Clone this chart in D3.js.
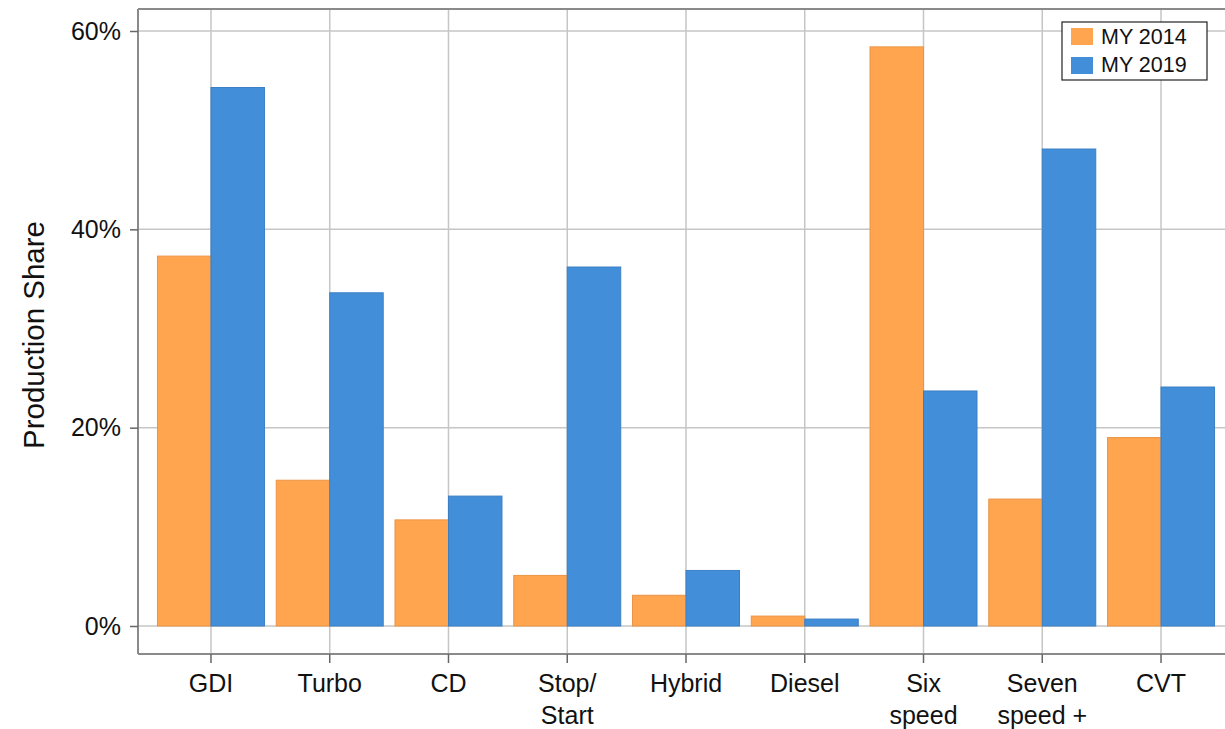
<!DOCTYPE html>
<html>
<head>
<meta charset="utf-8">
<script src="https://cdn.jsdelivr.net/npm/d3@7"></script>
<style>
  html, body { margin: 0; padding: 0; background: #fff; }
  svg { display: block; font-family: "Liberation Sans", Arial, sans-serif; }
</style>
</head>
<body>
<svg id="chart" width="1225" height="729"></svg>
<script>
// Data
const categories = [["GDI"], ["Turbo"], ["CD"], ["Stop/", "Start"], ["Hybrid"], ["Diesel"], ["Six", "speed"], ["Seven", "speed +"], ["CVT"]];
const seriesNames = ["MY 2014", "MY 2019"];
const my2014 = [37.3, 14.7, 10.7, 5.1, 3.1, 1.0, 58.4, 12.8, 19.0];
const my2019 = [54.3, 33.6, 13.1, 36.2, 5.6, 0.7, 23.7, 48.1, 24.1];
const yTicks = [0, 20, 40, 60];

const colors = { "MY 2014": "#ffa54f", "MY 2019": "#428ed8" };
const strokes = { "MY 2014": "#eb9445", "MY 2019": "#3b80c6" };

const svg = d3.select("#chart");
const catKeys = categories.map(c => c.join(" "));

const plotLeft = 138, plotTop = 9, plotBottom = 654, plotRight = 1225;

const x = d3.scaleBand().domain(catKeys).range([151.6, 1220.4]).paddingInner(0).paddingOuter(0);
const xSub = d3.scaleBand().domain(seriesNames).range([0, x.bandwidth()]).paddingInner(0).paddingOuter(0.11);
const y = d3.scaleLinear().domain([0, 60]).range([626, 31]);

// Horizontal gridlines
svg.append("g").selectAll("line").data(yTicks).join("line")
  .attr("x1", plotLeft).attr("x2", plotRight)
  .attr("y1", d => y(d)).attr("y2", d => y(d))
  .attr("stroke", "#c6c6c6").attr("stroke-width", 1.5);

// Vertical gridlines at category centers
svg.append("g").selectAll("line").data(catKeys).join("line")
  .attr("x1", d => x(d) + x.bandwidth() / 2).attr("x2", d => x(d) + x.bandwidth() / 2)
  .attr("y1", plotTop).attr("y2", plotBottom)
  .attr("stroke", "#c6c6c6").attr("stroke-width", 1.5);

// Bars
const rows = catKeys.map((k, i) => ({ key: k, values: [
  { s: "MY 2014", v: my2014[i] }, { s: "MY 2019", v: my2019[i] } ] }));

const groups = svg.append("g").selectAll("g").data(rows).join("g")
  .attr("transform", d => `translate(${x(d.key)},0)`);
groups.selectAll("rect").data(d => d.values).join("rect")
  .attr("x", d => xSub(d.s))
  .attr("width", xSub.bandwidth())
  .attr("y", d => y(d.v))
  .attr("height", d => y(0) - y(d.v))
  .attr("fill", d => colors[d.s])
  .attr("stroke", d => strokes[d.s])
  .attr("stroke-width", 1);

// Frame (left, top, bottom)
svg.append("line").attr("x1", plotLeft).attr("x2", plotRight).attr("y1", plotTop).attr("y2", plotTop)
  .attr("stroke", "#8a8a8a").attr("stroke-width", 2);
svg.append("line").attr("x1", plotLeft).attr("x2", plotRight).attr("y1", plotBottom).attr("y2", plotBottom)
  .attr("stroke", "#8a8a8a").attr("stroke-width", 2);
svg.append("line").attr("x1", plotLeft).attr("x2", plotLeft).attr("y1", plotTop).attr("y2", plotBottom)
  .attr("stroke", "#8a8a8a").attr("stroke-width", 2);

// Y axis
const yAxis = d3.axisLeft(y).tickValues(yTicks).tickFormat(d => d + "%").tickSize(8).tickPadding(9);
const yg = svg.append("g").attr("transform", `translate(${plotLeft},0)`).call(yAxis);
yg.select(".domain").remove();
yg.selectAll(".tick line").attr("stroke", "#666").attr("stroke-width", 1.5);
yg.selectAll(".tick text").attr("font-size", 25).attr("fill", "#111")
  .attr("font-family", "'Liberation Sans', Arial, sans-serif");

// X axis
const xAxis = d3.axisBottom(x).tickSize(9).tickFormat("");
const xg = svg.append("g").attr("transform", `translate(0,${plotBottom})`).call(xAxis);
xg.select(".domain").remove();
xg.selectAll(".tick line").attr("stroke", "#666").attr("stroke-width", 1.5);
xg.selectAll(".tick").each(function(d, i) {
  const t = d3.select(this).append("text")
    .attr("text-anchor", "middle").attr("fill", "#111")
    .attr("font-size", 25)
    .attr("font-family", "'Liberation Sans', Arial, sans-serif");
  categories[i].forEach((line, j) => {
    t.append("tspan").attr("x", 0).attr("y", 38 + j * 32).text(line);
  });
});

// Y axis title
svg.append("text")
  .attr("transform", "translate(44,335) rotate(-90)")
  .attr("text-anchor", "middle")
  .attr("font-size", 29.5)
  .attr("fill", "#111")
  .text("Production Share");

// Legend
const lg = svg.append("g");
lg.append("rect").attr("x", 1062).attr("y", 22).attr("width", 145).attr("height", 58)
  .attr("fill", "#fff").attr("stroke", "#222").attr("stroke-width", 1.2);
seriesNames.forEach((s, i) => {
  lg.append("rect").attr("x", 1071).attr("y", 28 + i * 29).attr("width", 22).attr("height", 17)
    .attr("fill", colors[s]);
  lg.append("text").attr("x", 1101).attr("y", 44 + i * 28)
    .attr("font-size", 21.5).attr("fill", "#111").text(s);
});
</script>
</body>
</html>
